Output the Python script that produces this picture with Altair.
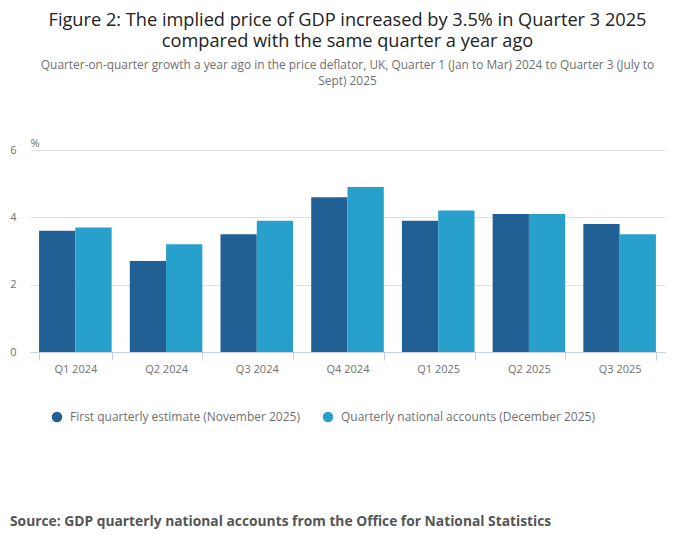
import altair as alt
import pandas as pd

quarters = ["Q1 2024", "Q2 2024", "Q3 2024", "Q4 2024", "Q1 2025", "Q2 2025", "Q3 2025"]
series_names = ["First quarterly estimate (November 2025)", "Quarterly national accounts (December 2025)"]
first_estimate = [3.6, 2.7, 3.5, 4.6, 3.9, 4.1, 3.8]
qna = [3.7, 3.2, 3.9, 4.9, 4.2, 4.1, 3.5]
colors = ["#206095", "#27a0cc"]

title_lines = ["Figure 2: The implied price of GDP increased by 3.5% in Quarter 3 2025",
               "compared with the same quarter a year ago"]
subtitle_lines = ["Quarter-on-quarter growth a year ago in the price deflator, UK, Quarter 1 (Jan to Mar) 2024 to Quarter 3 (July to",
                  "Sept) 2025"]
source_text = "Source: GDP quarterly national accounts from the Office for National Statistics"

rows = []
for i, q in enumerate(quarters):
    rows.append({"quarter": q, "series": series_names[0], "value": first_estimate[i]})
    rows.append({"quarter": q, "series": series_names[1], "value": qna[i]})
df = pd.DataFrame(rows)

FONT = "Open Sans"

bars = alt.Chart(df).mark_bar().encode(
    x=alt.X("quarter:N", sort=quarters,
            scale=alt.Scale(paddingInner=0.2, paddingOuter=0.1),
            axis=alt.Axis(title=None, labelAngle=0, tickBand="extent",
                          domainColor="#c5d1e3", tickColor="#c5d1e3", tickSize=8,
                          labelColor="#707070", labelFontSize=11, labelFont=FONT,
                          labelPadding=3)),
    xOffset=alt.XOffset("series:N", sort=series_names),
    y=alt.Y("value:Q", scale=alt.Scale(domain=[0, 6]),
            axis=alt.Axis(title="%", titleAngle=0, titleAlign="left", titleX=0, titleY=-2,
                          titleFont=FONT, titleFontSize=11, titleFontWeight="normal",
                          titleColor="#707070",
                          values=[0, 2, 4, 6], domain=False, ticks=False,
                          gridColor="#e2e2e2", labelColor="#707070", labelFontSize=11,
                          labelFont=FONT, labelPadding=14)),
    color=alt.Color("series:N", sort=series_names,
                    scale=alt.Scale(domain=series_names, range=colors),
                    legend=alt.Legend(title=None, orient="none", legendX=21, legendY=261,
                                      direction="horizontal", symbolType="circle",
                                      symbolSize=110, symbolStrokeWidth=0,
                                      labelFont=FONT, labelFontSize=12, labelColor="#707070",
                                      labelLimit=0, columnPadding=22, labelOffset=7)),
)

src = alt.Chart(pd.DataFrame({"t": [source_text]})).mark_text(
    align="left", baseline="alphabetic", font=FONT, fontSize=13.8, fontWeight="bold",
    color="#555555"
).encode(text="t:N", x=alt.value(-20), y=alt.value(376))

chart = alt.layer(bars, src).properties(
    width=635, height=202,
    autosize=alt.AutoSizeParams(type="none"),
    padding={"left": 22, "top": 142, "right": 27, "bottom": 180},
    title=alt.TitleParams(text=title_lines, subtitle=subtitle_lines, anchor="middle",
                          font=FONT, fontSize=18.2, fontWeight="normal", color="#222222",
                          lineHeight=21, subtitleFont=FONT, subtitleFontSize=11.9,
                          subtitleColor="#707070", subtitleLineHeight=16,
                          subtitlePadding=9, offset=49),
).configure_view(stroke=None)

chart.save("out.html", embed_options={"renderer": "svg", "actions": False})
